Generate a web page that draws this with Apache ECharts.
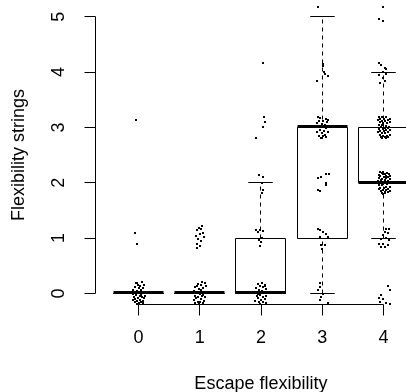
<!DOCTYPE html>
<html>
<head>
<meta charset="utf-8">
<script src="https://cdn.jsdelivr.net/npm/echarts@6/dist/echarts.min.js"></script>
<style>
  html, body { margin: 0; padding: 0; background: #fff; }
  #chart { width: 406px; height: 392px; }
</style>
</head>
<body>
<div id="chart"></div>
<script>
// Box summaries per escape-flexibility level
const categories    = [0, 1, 2, 3, 4];
const whiskerLow    = [0, 0, 0, 0, 1];
const lowerQuartile = [0, 0, 0, 1, 2];
const medians       = [0, 0, 0, 3, 2];
const upperQuartile = [0, 0, 1, 3, 3];
const whiskerHigh   = [0, 0, 2, 5, 4];

// Axis ticks and plotting ranges
const xTicks = [0, 1, 2, 3, 4];
const yTicks = [0, 1, 2, 3, 4, 5];
const xRange = [-0.7, 4.7];
const yRange = [-0.2, 5.2];

// Jittered observations, [escape flexibility, flexibility strings]
const escape0 = [
  [-0.02,0.19],[0.06,0.21],[0.09,0.16],[0.03,0.14],[-0.05,0.12],[0.01,0.10],[0.07,0.09],
  [-0.08,0.07],[-0.03,0.05],[0.04,0.04],[0.08,0.02],[-0.06,0.01],[0.00,0.00],[-0.09,-0.01],
  [0.05,-0.02],[-0.04,-0.03],[0.02,-0.05],[-0.07,-0.06],[0.06,-0.07],[-0.01,-0.08],[0.09,-0.09],
  [-0.05,-0.10],[0.03,-0.11],[-0.08,-0.12],[0.07,-0.13],[-0.02,-0.14],[0.04,-0.15],[-0.06,-0.16],
  [0.01,-0.17],[0.08,-0.18],[-0.03,-0.19],[0.05,0.07],[-0.01,0.15],[0.10,-0.04],[-0.04,0.18],
  [-0.05,1.10],[-0.02,0.89],[-0.04,3.13]
];
const escape1 = [
  [1.04,0.20],[1.08,0.18],[0.97,0.17],[1.02,0.15],[1.10,0.13],[0.93,0.12],[1.06,0.10],
  [0.99,0.08],[1.03,0.06],[0.91,0.05],[1.08,0.03],[0.96,0.01],[1.01,-0.01],[1.05,-0.03],
  [0.92,-0.04],[0.98,-0.06],[1.09,-0.07],[0.94,-0.09],[1.03,-0.10],[0.90,-0.12],[1.07,-0.13],
  [0.97,-0.15],[1.01,-0.16],[0.93,-0.18],[1.06,-0.18],[0.99,-0.19],[1.04,-0.05],[0.95,0.14],
  [1.04,1.22],[0.99,1.19],[1.03,1.16],[0.96,1.14],[1.05,1.10],[1.01,1.07],[0.94,1.04],
  [1.07,1.02],[0.98,0.98],[1.03,0.94],[0.95,0.90],[1.00,0.86],[0.96,0.82]
];
const escape2 = [
  [2.02,0.19],[1.95,0.17],[2.07,0.16],[1.99,0.14],[2.04,0.12],[1.92,0.10],[2.08,0.08],
  [1.97,0.06],[2.01,0.04],[1.94,0.02],[2.05,0.00],[1.98,-0.02],[2.09,-0.04],[1.93,-0.05],
  [2.03,-0.07],[1.96,-0.09],[2.06,-0.10],[2.00,-0.12],[1.91,-0.13],[2.04,-0.15],[1.97,-0.16],
  [2.08,-0.18],[1.99,-0.19],[2.06,0.13],[1.95,-0.01],
  [1.92,1.14],[1.95,1.11],[1.99,1.15],[2.01,1.01],[1.97,0.96],[2.00,0.93],[1.99,0.86],[2.03,1.12],
  [1.97,2.14],[2.03,2.10],[2.01,2.00],[2.03,1.86],[2.02,1.81],
  [2.05,3.18],[2.06,3.09],[2.04,3.01],[1.92,2.80],
  [2.03,4.17]
];
const escape3 = [
  [2.97,0.18],[2.96,0.12],[2.94,0.07],[3.01,-0.01],[2.98,-0.06],[2.96,-0.12],[3.09,-0.18],
  [2.93,1.17],[2.97,1.14],[3.01,1.11],[3.07,1.08],[2.96,1.02],[3.09,1.02],[2.98,0.87],[3.05,0.87],[3.00,0.80],
  [2.93,2.08],[2.98,2.11],[3.06,2.15],[3.11,2.15],[3.07,2.00],[3.06,1.96],[2.94,1.86],[2.97,1.85],
  [2.93,3.18],[2.97,3.17],[3.06,3.16],[3.10,3.14],[2.95,3.12],[3.02,3.11],[3.08,3.09],
  [2.92,3.07],[2.99,3.06],[3.04,3.04],[3.11,3.03],[2.94,3.01],[3.01,3.00],[3.07,2.98],
  [2.97,2.96],[3.03,2.94],[2.92,2.92],[3.09,2.91],[2.99,2.89],[3.05,2.87],[2.95,2.85],
  [3.02,2.84],[3.07,2.83],[2.98,2.81],[3.00,2.80],
  [3.01,4.15],[3.02,4.11],[3.03,4.00],[2.91,3.84],[3.10,3.93],[3.05,3.97],
  [2.94,5.17]
];
const escape4 = [
  [4.07,0.13],[4.10,0.06],[3.96,-0.03],[3.92,-0.09],[3.99,-0.10],[3.95,-0.15],[4.04,-0.18],[4.11,-0.19],
  [4.04,1.17],[4.09,1.17],[4.03,1.11],[4.07,1.10],[3.99,1.05],[4.05,1.01],[3.96,0.98],
  [4.09,0.96],[3.93,0.90],[4.00,0.89],[4.07,0.87],[3.96,0.84],[4.03,0.83],
  [3.94,2.20],[4.00,2.19],[4.06,2.18],[3.97,2.18],[4.03,2.16],[4.09,2.16],[3.92,2.14],
  [3.99,2.15],[4.05,2.13],[4.11,2.12],[3.95,2.12],[4.01,2.10],[4.07,2.10],[3.93,2.08],
  [3.98,2.07],[4.04,2.08],[4.10,2.06],[3.96,2.05],[4.02,2.05],[4.08,2.03],[3.91,2.03],
  [3.97,2.01],[4.03,2.01],[4.09,1.99],[3.94,1.99],[4.00,1.97],[4.06,1.97],[3.92,1.95],
  [3.98,1.95],[4.04,1.93],[4.10,1.93],[3.95,1.91],[4.01,1.91],[4.07,1.89],[3.93,1.89],
  [3.99,1.87],[4.05,1.87],[4.11,1.85],[3.96,1.85],[4.02,1.83],[4.08,1.83],[3.97,1.82],
  [4.03,1.81],[4.00,1.80],
  [3.93,3.19],[3.98,3.18],[4.05,3.18],[4.10,3.16],[3.95,3.15],[4.01,3.15],[4.08,3.13],
  [3.91,3.13],[3.97,3.11],[4.03,3.11],[4.11,3.09],[3.94,3.09],[4.00,3.07],[4.06,3.07],
  [3.92,3.05],[3.98,3.04],[4.04,3.03],[4.09,3.01],[3.96,3.01],[4.02,2.99],[4.07,2.99],
  [3.93,2.97],[3.99,2.97],[4.05,2.95],[4.11,2.95],[3.95,2.93],[4.01,2.93],[4.08,2.91],
  [3.91,2.91],[3.97,2.89],[4.03,2.89],[4.10,2.87],[3.94,2.87],[4.00,2.85],[4.06,2.85],
  [3.96,2.83],[4.02,2.83],[4.08,2.82],[3.98,2.81],[4.04,2.80],
  [3.92,4.17],[3.96,4.13],[4.02,4.07],[4.05,4.06],[3.99,4.00],[4.04,3.97],[3.93,3.95],
  [4.00,3.89],[3.95,3.81],[4.03,3.83],
  [3.99,5.18],[3.92,4.96],[3.99,4.93]
];

const BOX_WIDTH = 0.8;
const FONT = 'Liberation Sans, Arial, Helvetica, sans-serif';

const boxData = categories.map((c, i) => [
  c, whiskerLow[i], lowerQuartile[i], medians[i], upperQuartile[i], whiskerHigh[i]
]);

// place 1px strokes on pixel centres so they stay crisp
const crisp = v => Math.round(v - 0.5) + 0.5;

function renderBox(params, api) {
  const x = api.value(0);
  const lo = api.coord([x, api.value(1)]);
  const q1 = api.coord([x, api.value(2)]);
  const med = api.coord([x, api.value(3)]);
  const q3 = api.coord([x, api.value(4)]);
  const hi = api.coord([x, api.value(5)]);
  const half = api.size([BOX_WIDTH, 0])[0] / 2;
  const cap = half / 2;
  const cx = crisp(lo[0]);
  const thin = { stroke: '#000', lineWidth: 1, fill: null };
  const dashed = { stroke: '#000', lineWidth: 1, lineDash: [4, 4] };
  const left = crisp(cx - half), right = crisp(cx + half);
  const top = crisp(q3[1]), bottom = crisp(q1[1]);
  return {
    type: 'group',
    children: [
      { type: 'line', shape: { x1: cx, y1: top, x2: cx, y2: crisp(hi[1]) }, style: dashed },
      { type: 'line', shape: { x1: cx, y1: crisp(lo[1]), x2: cx, y2: bottom }, style: dashed },
      { type: 'line', shape: { x1: cx - cap, y1: crisp(hi[1]), x2: cx + cap, y2: crisp(hi[1]) }, style: thin },
      { type: 'line', shape: { x1: cx - cap, y1: crisp(lo[1]), x2: cx + cap, y2: crisp(lo[1]) }, style: thin },
      { type: 'rect', shape: { x: left, y: top, width: right - left, height: bottom - top }, style: thin },
      { type: 'line', shape: { x1: left, y1: Math.round(med[1]) - 0.5, x2: right, y2: Math.round(med[1]) - 0.5 },
        style: { stroke: '#000', lineWidth: 3 } }
    ]
  };
}

// each observation as a small solid square snapped to the pixel grid
function renderPoint(params, api) {
  const p = api.coord([api.value(0), api.value(1)]);
  return {
    type: 'rect',
    shape: { x: Math.round(p[0]) - 1, y: Math.round(p[1]) - 1, width: 2, height: 2 },
    style: { fill: '#000' }
  };
}

const chart = echarts.init(document.getElementById('chart'), null, { renderer: 'canvas' });

const pointSeries = [escape0, escape1, escape2, escape3, escape4].map(pts => ({
  type: 'custom',
  renderItem: renderPoint,
  data: pts,
  z: 5,
  silent: true
}));

chart.setOption({
  animation: false,
  backgroundColor: '#fff',
  grid: {
    left: 95.5, top: 5.6, width: 330.8, height: 298.9,
    containLabel: false, outerBoundsMode: 'none'
  },
  xAxis: {
    type: 'value',
    min: xRange[0], max: xRange[1],
    name: 'Escape flexibility',
    nameLocation: 'middle',
    nameGap: 71,
    nameTextStyle: { fontFamily: FONT, fontSize: 18, color: '#000' },
    axisLine: { show: false, onZero: false },
    axisTick: { show: true, customValues: xTicks, length: 11, lineStyle: { color: '#000', width: 1 } },
    axisLabel: { customValues: xTicks, margin: 25, fontFamily: FONT, fontSize: 18, color: '#000' },
    splitLine: { show: false }
  },
  yAxis: {
    type: 'value',
    min: yRange[0], max: yRange[1],
    name: 'Flexibility strings',
    nameLocation: 'middle',
    nameGap: 67,
    nameRotate: 90,
    nameTextStyle: { fontFamily: FONT, fontSize: 18, color: '#000' },
    axisLine: { show: false, onZero: false },
    axisTick: { show: true, customValues: yTicks, length: 11, lineStyle: { color: '#000', width: 1 } },
    axisLabel: { customValues: yTicks, rotate: 90, margin: 27, fontFamily: FONT, fontSize: 18, color: '#000' },
    splitLine: { show: false }
  },
  series: [
    {
      type: 'custom',
      renderItem: renderBox,
      data: boxData,
      clip: false,
      z: 2,
      silent: true
    },
    // axis lines spanning only the labelled tick range
    {
      type: 'line',
      data: [[xTicks[0], yRange[0]], [xTicks[xTicks.length - 1], yRange[0]]],
      symbol: 'none', clip: false, silent: true,
      lineStyle: { color: '#000', width: 1 }
    },
    {
      type: 'line',
      data: [[xRange[0], yTicks[0]], [xRange[0], yTicks[yTicks.length - 1]]],
      symbol: 'none', clip: false, silent: true,
      lineStyle: { color: '#000', width: 1 }
    },
    ...pointSeries
  ]
});
</script>
</body>
</html>
